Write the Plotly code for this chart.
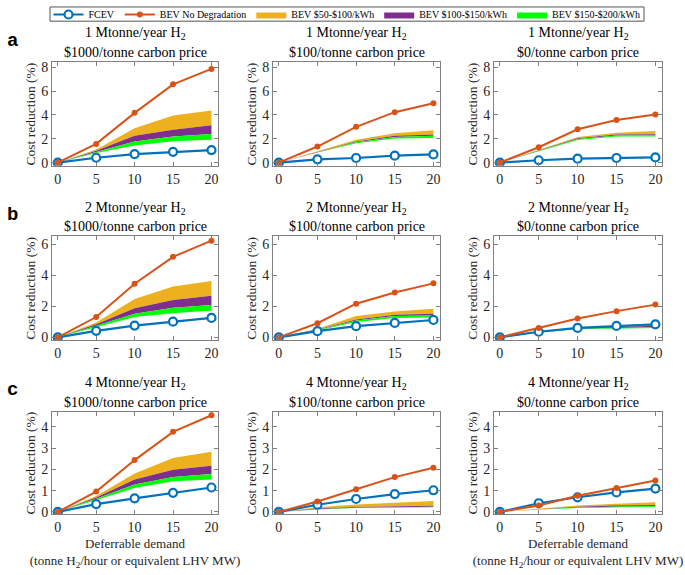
import plotly.graph_objects as go

# ---------------- data ----------------
x_demand = [0, 5, 10, 15, 20]
x_ticks = [0, 5, 10, 15, 20]
h2_labels = ["1 Mtonne/year H<sub>2</sub>", "2 Mtonne/year H<sub>2</sub>", "4 Mtonne/year H<sub>2</sub>"]
carbon_labels = ["$1000/tonne carbon price", "$100/tonne carbon price", "$0/tonne carbon price"]
row_letters = ["a", "b", "c"]
y_ticks_by_row = [[0, 2, 4, 6, 8], [0, 2, 4, 6], [0, 1, 2, 3, 4]]
y_range_by_row = [[-0.27, 8.4], [-0.2, 6.5], [-0.1, 4.7]]
y_title = "Cost reduction (%)"
x_title = "Deferrable demand<br>(tonne H<sub>2</sub>/hour or equivalent LHV MW)"

# panels in order a1, a2, a3, b1, b2, b3, c1, c2, c3
fcev = [
    [0, 0.41, 0.72, 0.91, 1.05],
    [0, 0.28, 0.39, 0.58, 0.69],
    [0, 0.20, 0.33, 0.39, 0.44],
    [0, 0.42, 0.76, 1.01, 1.25],
    [0, 0.40, 0.72, 0.93, 1.12],
    [0, 0.36, 0.61, 0.74, 0.84],
    [0, 0.37, 0.64, 0.90, 1.15],
    [0, 0.34, 0.61, 0.84, 1.02],
    [0, 0.41, 0.69, 0.92, 1.10],
]
bev_no_deg = [
    [0, 1.57, 4.17, 6.56, 7.85],
    [0, 1.35, 3.00, 4.23, 4.97],
    [0, 1.29, 2.80, 3.57, 4.03],
    [0, 1.31, 3.46, 5.19, 6.23],
    [0, 0.91, 2.17, 2.89, 3.48],
    [0, 0.61, 1.22, 1.69, 2.11],
    [0, 0.96, 2.44, 3.77, 4.55],
    [0, 0.49, 1.07, 1.64, 2.08],
    [0, 0.30, 0.76, 1.13, 1.48],
]
bev_50 = [
    [0, 1.10, 2.88, 3.95, 4.36],
    [0, 0.95, 1.92, 2.47, 2.72],
    [0, 1.05, 2.15, 2.50, 2.65],
    [0, 0.95, 2.47, 3.27, 3.63],
    [0, 0.55, 1.37, 1.67, 1.84],
    [0, 0.35, 0.62, 0.75, 0.90],
    [0, 0.75, 1.81, 2.54, 2.83],
    [0, 0.22, 0.35, 0.45, 0.52],
    [0, 0.15, 0.30, 0.38, 0.46],
]
bev_100 = [
    [0, 1.00, 2.25, 2.75, 3.13],
    [0, 0.90, 1.78, 2.25, 2.36],
    [0, 1.02, 2.05, 2.35, 2.38],
    [0, 0.85, 1.88, 2.40, 2.68],
    [0, 0.50, 1.15, 1.46, 1.52],
    [0, 0.33, 0.58, 0.68, 0.75],
    [0, 0.68, 1.53, 1.99, 2.17],
    [0, 0.16, 0.23, 0.27, 0.29],
    [0, 0.12, 0.24, 0.30, 0.33],
]
bev_150 = [
    [0, 0.90, 1.78, 2.20, 2.39],
    [0, 0.88, 1.70, 2.14, 2.25],
    [0, 1.00, 1.98, 2.28, 2.30],
    [0, 0.75, 1.52, 1.90, 2.09],
    [0, 0.47, 1.08, 1.37, 1.41],
    [0, 0.31, 0.55, 0.62, 0.65],
    [0, 0.62, 1.29, 1.64, 1.79],
    [0, 0.13, 0.20, 0.23, 0.25],
    [0, 0.11, 0.21, 0.26, 0.28],
]
bev_200 = [
    [0, 0.80, 1.43, 1.79, 1.92],
    [0, 0.85, 1.62, 2.03, 2.06],
    [0, 0.98, 1.90, 2.20, 2.20],
    [0, 0.65, 1.31, 1.56, 1.73],
    [0, 0.44, 0.99, 1.25, 1.28],
    [0, 0.30, 0.52, 0.58, 0.60],
    [0, 0.56, 1.13, 1.44, 1.53],
    [0, 0.11, 0.18, 0.20, 0.22],
    [0, 0.10, 0.19, 0.22, 0.24],
]
band_names = ["BEV $50-$100/kWh", "BEV $100-$150/kWh", "BEV $150-$200/kWh"]

# ---------------- style ----------------
W, H = 685, 575
C_FCEV = "#0072BD"
C_BEV = "#D95319"
BAND_COLORS = ["#EDB120", "#7E2F8E", "#00FF00"]
SERIF = "Liberation Serif"
AX_COLOR = "#808080"
TXT = "#262626"

col_px = [(52, 218), (273, 440), (494, 662)]
row_px = [(58.5, 164), (236, 342), (415, 519)]

fig = go.Figure()

for k in range(9):
    r, c = divmod(k, 3)
    ax = "" if k == 0 else str(k + 1)
    xa, ya = "x" + ax, "y" + ax
    bands = [(bev_50[k], bev_100[k]), (bev_100[k], bev_150[k]), (bev_150[k], bev_200[k])]
    for b, (upper, lower) in enumerate(bands):
        fig.add_trace(go.Scatter(
            x=x_demand + x_demand[::-1], y=upper + lower[::-1],
            fill="toself", fillcolor=BAND_COLORS[b], mode="lines",
            line=dict(width=0, color=BAND_COLORS[b]),
            name=band_names[b], legendgroup=band_names[b], legendrank=3 + b,
            showlegend=(k == 0), hoverinfo="skip", xaxis=xa, yaxis=ya))
    fig.add_trace(go.Scatter(
        x=x_demand, y=fcev[k], mode="lines+markers", name="FCEV",
        line=dict(color=C_FCEV, width=2.2),
        marker=dict(symbol="circle", size=8, color="white", line=dict(color=C_FCEV, width=2.2)),
        legendgroup="FCEV", legendrank=1, showlegend=(k == 0), xaxis=xa, yaxis=ya))
    fig.add_trace(go.Scatter(
        x=x_demand, y=bev_no_deg[k], mode="lines+markers", name="BEV No Degradation",
        line=dict(color=C_BEV, width=2),
        marker=dict(symbol="circle", size=6, color=C_BEV),
        legendgroup="BEV", legendrank=2, showlegend=(k == 0), xaxis=xa, yaxis=ya))

    x0, x1 = col_px[c]
    y0, y1 = row_px[r]
    common = dict(showline=True, linecolor=AX_COLOR, linewidth=1, mirror="ticks",
                  ticks="inside", ticklen=4, tickcolor=AX_COLOR, showgrid=False, zeroline=False,
                  tickfont=dict(family=SERIF, size=14, color=TXT))
    xaxis = dict(domain=[x0 / W, x1 / W], anchor=ya, range=[-0.75, 20.85],
                 tickmode="array", tickvals=x_ticks, **common)
    if r == 2 and c != 1:
        xaxis["title"] = dict(text=x_title, font=dict(family=SERIF, size=13, color=TXT), standoff=5)
    yaxis = dict(domain=[1 - y1 / H, 1 - y0 / H], anchor=xa, range=y_range_by_row[r],
                 tickmode="array", tickvals=y_ticks_by_row[r],
                 title=dict(text=y_title, font=dict(family=SERIF, size=13.5, color=TXT), standoff=2),
                 **common)
    fig.layout["xaxis" + ax] = xaxis
    fig.layout["yaxis" + ax] = yaxis

annotations = []
for r in range(3):
    top = row_px[r][0]
    for c in range(3):
        cx = (col_px[c][0] + col_px[c][1]) / 2 / W
        annotations.append(dict(text=h2_labels[r], x=cx, y=1 - (top - 29) / H, xref="paper", yref="paper",
                                xanchor="center", yanchor="middle", showarrow=False,
                                font=dict(family=SERIF, size=14, color="black")))
        annotations.append(dict(text=carbon_labels[c], x=cx, y=1 - (top - 10) / H, xref="paper", yref="paper",
                                xanchor="center", yanchor="middle", showarrow=False,
                                font=dict(family=SERIF, size=14, color="black")))
    annotations.append(dict(text="<b>%s</b>" % row_letters[r], x=5 / W, y=1 - (top - 22) / H,
                            xref="paper", yref="paper", xanchor="left", yanchor="middle", showarrow=False,
                            font=dict(family="Liberation Mono", size=19, color="black")))

# thin frame around the (borderless) legend, as in the reference
legend_frame = dict(type="rect", xref="paper", yref="paper",
                    x0=50 / W, x1=644 / W, y0=1 - 16.5 / H, y1=1 - 2 / H,
                    line=dict(color="#555555", width=1), fillcolor="rgba(0,0,0,0)", layer="above")

fig.update_layout(
    width=W, height=H, margin=dict(l=0, r=0, t=0, b=0),
    font=dict(family=SERIF, color=TXT),
    paper_bgcolor="white", plot_bgcolor="white",
    annotations=annotations,
    shapes=[legend_frame],
    showlegend=True,
    hovermode=False,
    legend=dict(orientation="h", x=347 / W, xanchor="center", y=1 + 5.5 / H, yanchor="top",
                font=dict(family=SERIF, size=10, color="black"),
                borderwidth=0, bgcolor="rgba(0,0,0,0)",
                itemwidth=30, tracegroupgap=0),
)

fig.write_html(
    "out.html",
    config={"displayModeBar": False},
    post_script="document.body.style.margin='0';document.body.style.padding='0';"
                "document.body.style.overflow='hidden';",
)
